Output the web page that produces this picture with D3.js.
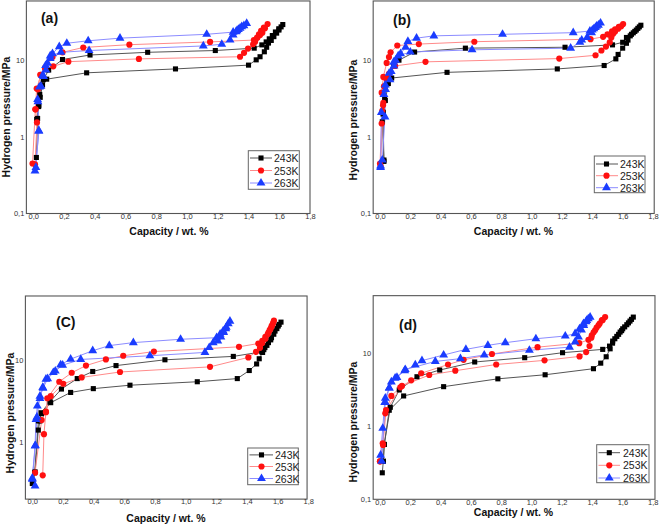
<!DOCTYPE html>
<html><head><meta charset="utf-8">
<script src="https://cdn.jsdelivr.net/npm/d3@7"></script>
<style>
body{margin:0;background:#fff}
svg{display:block}
text{font-family:"Liberation Sans",Arial,Helvetica,sans-serif}
</style>
</head><body>
<svg id="chart" width="661" height="524"></svg>
<script>
// ---------- data ----------
const temperatures = ["243K", "253K", "263K"];
const xTicks = [0, 0.2, 0.4, 0.6, 0.8, 1.0, 1.2, 1.4, 1.6, 1.8];
const yTicks = [0.1, 1, 10];
const panelLabels = ["(a)", "(b)", "(C)", "(d)"];
const xTitle = "Capacity / wt. %";
const yTitle = "Hydrogen pressure/MPa";

// [capacity wt.%, pressure MPa] — absorption then desorption
const a243 = [[0.02,0.54],[0.028,1.75],[0.036,2.6],[0.042,3.6],[0.05,4.6],[0.065,5.6],[0.1,7.5],[0.19,10.3],[0.369,11.8],[0.744,12.8],[1.184,13.5],[1.437,14.5],[1.487,16.0],[1.515,17.5],[1.535,19.2],[1.555,21.2],[1.575,23.6],[1.597,26],[1.623,29.5],[1.612,27.5],[1.598,25],[1.583,22.8],[1.565,20.5],[1.548,18.3],[1.53,16.9],[1.518,14.9],[1.503,13.0],[1.475,11.2],[1.45,10.2],[1.4,8.7],[0.925,7.76],[0.347,6.9],[0.087,5.7],[0.06,4.8],[0.045,3.3],[0.035,2.5],[0.022,1.7]];
const a253 = [[-0.005,0.45],[0.013,2.3],[0.022,4.3],[0.05,6.5],[0.078,7.8],[0.125,11.1],[0.19,12.8],[0.325,14.8],[0.625,16.1],[1.15,17.5],[1.435,18.5],[1.458,20],[1.475,21.5],[1.49,23.1],[1.507,26.3],[1.524,30],[1.5,27],[1.482,24.5],[1.468,22],[1.455,19.8],[1.443,17.6],[1.43,16.3],[1.397,14.3],[1.371,12.6],[1.345,11.2],[0.687,10.5],[0.228,9.65],[0.13,8.4],[0.076,8.0],[0.045,6.5],[0.03,4.2],[0.015,2.3],[0.024,1.55],[0.011,0.44]];
const a263 = [[0.011,0.36],[0.037,1.2],[0.028,3.1],[0.05,4.6],[0.067,6.2],[0.082,7.5],[0.093,9.2],[0.11,10.6],[0.125,12.3],[0.169,15.2],[0.218,16.8],[0.357,18.1],[0.564,19.6],[1.128,22],[1.3,23.5],[1.319,23.8],[1.334,25.5],[1.356,27.7],[1.388,30.6],[1.37,28.5],[1.345,26.5],[1.325,24.5],[1.30,21.6],[1.28,18.5],[1.226,16.3],[1.106,15.5],[0.363,13.5],[0.18,12.8],[0.11,11.5],[0.08,8.6],[0.06,6.4],[0.04,4.5],[0.03,2.9],[0.035,1.2],[0.017,0.4]];

const b243 = [[0.026,0.5],[0.015,1.58],[0.022,2.1],[0.031,3.1],[0.044,4.9],[0.06,6.0],[0.09,8.5],[0.125,10.1],[0.228,12.9],[0.563,14.5],[1.22,14.9],[1.533,16],[1.60,17.3],[1.625,20],[1.658,22],[1.68,24],[1.70,26.3],[1.72,28.9],[1.71,27.5],[1.69,25],[1.67,23],[1.65,21],[1.635,18.5],[1.625,16.8],[1.60,14.5],[1.57,12],[1.555,10.5],[1.478,8.6],[1.169,7.76],[0.442,7.0],[0.077,5.9],[0.055,5.0],[0.035,3.0],[0.02,2.0],[0.026,0.48]];
const b253 = [[0.0,0.45],[0.011,1.5],[0.015,2.2],[0.022,2.8],[0.011,3.8],[0.022,6.1],[0.044,9.3],[0.059,11.1],[0.07,12.8],[0.114,15.7],[0.256,16.4],[0.622,17.6],[1.388,19.0],[1.471,20.4],[1.50,22],[1.53,24],[1.55,25.5],[1.575,27.5],[1.603,30],[1.59,28],[1.57,26],[1.55,24],[1.537,22.4],[1.525,20],[1.515,17.3],[1.49,15.2],[1.46,13.5],[1.421,11.7],[1.182,10.6],[0.3,9.6],[0.1,8.5],[0.059,6.7],[0.04,5.8],[0.026,4.6],[0.02,2.6],[0.004,0.42]];
const b263 = [[0.004,0.40],[0.009,2.1],[0.026,3.6],[0.037,4.2],[0.066,5.6],[0.074,7.2],[0.092,8.5],[0.103,10.1],[0.136,12.3],[0.169,14.9],[0.184,17.8],[0.241,19.6],[0.355,21],[0.808,22],[1.274,23.1],[1.384,24.3],[1.41,26],[1.428,28.1],[1.454,30.9],[1.44,29],[1.42,27],[1.40,25],[1.395,23.1],[1.366,20],[1.33,18.5],[1.318,17.3],[1.257,14.5],[0.607,13.8],[0.2,12.9],[0.12,11.5],[0.09,9.5],[0.06,6.8],[0.035,4.8],[0.033,1.83],[0.015,0.5],[0.004,0.42]];

const c243 = [[0.003,0.32],[0.018,0.43],[0.039,1.39],[0.05,1.8],[0.057,2.26],[0.115,3.08],[0.19,4.4],[0.293,5.9],[0.394,7.2],[0.546,8.5],[0.865,10.0],[1.311,11.0],[1.496,12.5],[1.517,14.1],[1.54,16.2],[1.56,18.6],[1.583,22.4],[1.604,25.8],[1.622,28.8],[1.61,27],[1.595,24],[1.575,20.5],[1.555,17.5],[1.53,15],[1.51,13.3],[1.502,12.3],[1.48,10.3],[1.463,8.9],[1.415,7.4],[1.337,5.9],[1.076,5.4],[0.637,4.9],[0.398,4.45],[0.25,4.0],[0.12,3.0],[0.06,2.2],[0.04,1.8],[0.015,0.42],[0.0,0.31]];
const c253 = [[0.018,0.42],[0.061,1.84],[0.089,2.33],[0.098,3.4],[0.176,5.4],[0.257,6.95],[0.35,8.5],[0.48,10.1],[0.593,11.2],[0.793,12.6],[1.348,14.4],[1.474,15.8],[1.50,17],[1.52,19],[1.54,21.5],[1.555,24],[1.565,26.5],[1.576,30],[1.57,28],[1.56,25.5],[1.548,23],[1.535,20.5],[1.52,18],[1.50,16],[1.485,14],[1.459,12.5],[1.409,10.7],[1.159,8.2],[0.572,7.1],[0.322,6.1],[0.202,5.1],[0.12,3.6],[0.089,2.3],[0.076,1.24],[0.068,0.39]];
const c263 = [[0.018,0.29],[0.0,0.36],[0.018,0.89],[0.024,1.88],[0.033,2.73],[0.05,3.39],[0.068,4.6],[0.089,5.8],[0.137,7.0],[0.185,8.7],[0.25,10.2],[0.394,12.9],[0.502,14.9],[0.659,16.2],[0.967,17.8],[1.202,18.6],[1.225,20.5],[1.245,22.5],[1.265,25],[1.289,29.6],[1.278,27.5],[1.262,24],[1.248,21.5],[1.23,19],[1.21,17],[1.18,16.2],[1.154,14.1],[1.126,12.3],[0.767,11.2],[0.316,10.1],[0.198,8.6],[0.15,7.3],[0.1,5.9],[0.07,4.5],[0.05,3.6],[0.03,2.0],[0.02,0.9],[0.0,0.35]];

const d243 = [[0.015,0.23],[0.022,0.33],[0.028,0.56],[0.068,1.8],[0.127,3.1],[0.244,4.7],[0.394,5.8],[0.625,7.47],[0.955,8.55],[1.205,10],[1.47,11.1],[1.515,12.3],[1.536,14.4],[1.563,16.7],[1.585,19.1],[1.602,21.2],[1.629,24.1],[1.65,27],[1.672,30.6],[1.66,28.5],[1.64,25.5],[1.615,22.5],[1.595,20],[1.575,17.8],[1.55,15.5],[1.535,13.5],[1.519,11.3],[1.493,8.8],[1.457,7.2],[1.409,6.05],[1.09,5.0],[0.778,4.4],[0.42,3.44],[0.156,2.57],[0.061,1.64],[0.028,0.56],[0.022,0.33]];
const d253 = [[0.0,0.33],[0.018,0.58],[0.035,1.49],[0.075,2.57],[0.134,3.37],[0.206,4.2],[0.272,5.24],[0.449,6.9],[0.552,8.0],[0.739,9.6],[1.04,11.9],[1.315,13.5],[1.376,15],[1.398,17.2],[1.42,20.2],[1.442,23.6],[1.464,27.6],[1.486,30.6],[1.47,28],[1.45,25],[1.43,22],[1.41,19],[1.395,16],[1.383,12.3],[1.361,10.2],[1.317,8.9],[1.086,7.86],[0.767,6.9],[0.497,5.68],[0.325,4.96],[0.145,3.52],[0.04,1.65],[0.02,0.55],[0.0,0.33]];
const d263 = [[0.004,0.40],[0.018,0.93],[0.031,2.1],[0.035,2.4],[0.061,3.3],[0.075,4.0],[0.112,4.6],[0.163,5.7],[0.233,6.8],[0.277,7.8],[0.42,9.3],[0.567,11.1],[0.712,12.6],[0.827,13.7],[1.029,15.5],[1.223,16.9],[1.288,18.2],[1.317,21.2],[1.343,24.9],[1.365,27.6],[1.387,30.6],[1.375,29],[1.36,26.5],[1.345,23.5],[1.33,20.5],[1.31,16.4],[1.288,14],[1.251,11.9],[0.986,10.8],[0.688,9.3],[0.531,8.3],[0.365,7.6],[0.167,5.9],[0.1,4.5],[0.061,3.3],[0.035,2.1],[0.011,0.33]];

// ---------- styling ----------
const lineColors = ["#555555", "#ff8a8a", "#8c8cff"];
const markColors = ["#000000", "#ff1010", "#1a3cff"];
const markTypes = [d3.symbolSquare, d3.symbolCircle, d3.symbolTriangle];
const markSizes = [26, 30, 34];

const panels = [
  {series:[a243,a253,a263], label:panelLabels[0], x0:33.3, x18:310, y1:137, y10:60.5, ymin:0.1, xHi:1.8,
   lab:[49.5,18], xt:[169,231], yt:[6,117],
   leg:{x:248.3,y:150.7,w:51,h:38.6,rows:[158,170.5,183],l1:250,l2:272,mx:261,tx:274}},
  {series:[b243,b253,b263], label:panelLabels[1], x0:380, x18:653, y1:137, y10:60.5, ymin:0.1, xHi:1.808,
   lab:[402,20], xt:[513.5,231], yt:[352.7,120],
   leg:{x:594.3,y:156,w:50.7,h:36.7,rows:[164,175.7,187.7],l1:596,l2:618,mx:606.5,tx:620}},
  {series:[c243,c253,c263], label:panelLabels[2], x0:32.3, x18:308.3, y1:441.8, y10:359.8, ymin:0.2, xHi:1.792,
   lab:[65.7,322.3], xt:[166,517.7], yt:[10,413],
   leg:{x:247.7,y:448,w:50.6,h:36.7,rows:[454.9,466.5,478.5],l1:249.5,l2:273,mx:261.5,tx:275}},
  {series:[d243,d253,d263], label:panelLabels[3], x0:380, x18:652.7, y1:426, y10:352.7, ymin:0.1, xHi:1.815,
   lab:[408,325], xt:[513.5,512], yt:[352.7,422],
   leg:{x:596.7,y:444.7,w:52.3,h:38,rows:[452.7,465.3,478],l1:598.5,l2:620,mx:609.3,tx:623}}
];

const svg = d3.select("#chart");
const fmtX = d => d3.format(".1f")(d).replace(".", ",");
const fmtY = d => d < 1 ? String(d).replace(".", ",") : String(d);

panels.forEach(P => {
  const x = d3.scaleLinear().domain([0, 1.8]).range([P.x0, P.x18]);
  const y = d3.scaleLog().domain([1, 10]).range([P.y1, P.y10]);
  const g = svg.append("g");
  const left = x(-0.045), right = x(P.xHi), top = y(60), bottom = y(P.ymin);

  // frame
  g.append("rect").attr("x", left).attr("y", top).attr("width", right - left).attr("height", bottom - top)
    .attr("fill", "none").attr("stroke", "#555").attr("stroke-width", 1.1);

  // axes
  const xa = g.append("g").attr("transform", `translate(0,${bottom})`)
    .call(d3.axisBottom(x).tickValues(xTicks).tickSize(0).tickPadding(0).tickFormat(fmtX));
  xa.select(".domain").remove();
  xa.selectAll("text").attr("font-size", 7.5).attr("fill", "#333").attr("font-family", "Liberation Sans, Arial, sans-serif");

  const ya = g.append("g").attr("transform", `translate(${left},0)`)
    .call(d3.axisLeft(y).tickValues(yTicks.filter(t => t >= P.ymin)).tickSize(0).tickPadding(2).tickFormat(fmtY));
  ya.select(".domain").remove();
  ya.selectAll("text").attr("font-size", 7.5).attr("fill", "#333").attr("font-family", "Liberation Sans, Arial, sans-serif");

  // series
  const line = d3.line().x(d => x(d[0])).y(d => y(d[1]));
  P.series.forEach((s, i) => {
    g.append("path").datum(s).attr("d", line).attr("fill", "none")
      .attr("stroke", lineColors[i]).attr("stroke-width", 1);
  });
  P.series.forEach((s, i) => {
    g.selectAll(null).data(s).enter().append("path")
      .attr("transform", d => `translate(${x(d[0])},${y(d[1])})`)
      .attr("d", d3.symbol().type(markTypes[i]).size(markSizes[i]))
      .attr("fill", markColors[i]);
  });

  // panel label
  g.append("text").attr("x", P.lab[0]).attr("y", P.lab[1]).attr("text-anchor", "middle")
    .attr("dominant-baseline", "central").attr("font-size", 14).attr("font-weight", "bold").attr("fill", "#111")
    .text(P.label);

  // axis titles
  g.append("text").attr("x", P.xt[0]).attr("y", P.xt[1]).attr("text-anchor", "middle")
    .attr("dominant-baseline", "central").attr("font-size", 10.5).attr("font-weight", "bold").attr("fill", "#111")
    .text(xTitle);
  g.append("text").attr("transform", `translate(${P.yt[0]},${P.yt[1]}) rotate(-90)`).attr("text-anchor", "middle")
    .attr("dominant-baseline", "central").attr("font-size", 10.5).attr("font-weight", "bold").attr("fill", "#111")
    .text(yTitle);

  // legend
  const L = P.leg;
  g.append("rect").attr("x", L.x).attr("y", L.y).attr("width", L.w).attr("height", L.h)
    .attr("fill", "#fff").attr("stroke", "#666").attr("stroke-width", 1);
  temperatures.forEach((t, i) => {
    const ry = L.rows[i];
    g.append("line").attr("x1", L.l1).attr("x2", L.l2).attr("y1", ry).attr("y2", ry)
      .attr("stroke", lineColors[i]).attr("stroke-width", 1);
    g.append("path").attr("transform", `translate(${L.mx},${ry})`)
      .attr("d", d3.symbol().type(markTypes[i]).size(markSizes[i])).attr("fill", markColors[i]);
    g.append("text").attr("x", L.tx).attr("y", ry).attr("dominant-baseline", "central")
      .attr("font-size", 10.5).attr("fill", "#222").text(t);
  });
});
</script>
</body></html>
